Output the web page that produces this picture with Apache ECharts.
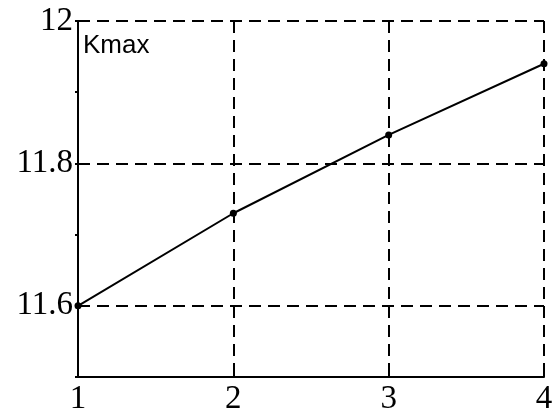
<!DOCTYPE html>
<html>
<head>
<meta charset="utf-8">
<script src="https://cdn.jsdelivr.net/npm/echarts@6/dist/echarts.min.js"></script>
<style>
  html, body { margin: 0; padding: 0; background: #fff; }
  #chart { width: 555px; height: 414px; }
</style>
</head>
<body>
<div id="chart"></div>
<script>
// Kmax versus step index
const steps = [1, 2, 3, 4];
const kmax = [11.6, 11.73, 11.84, 11.94];
const yGridValues = [11.6, 11.8, 12];
const yLabelValues = ['11.6', '11.8', '12'];

const serif = '"Liberation Serif", "Times New Roman", serif';
const dashed = { color: '#000', width: 2, type: [12, 7] };

const chart = echarts.init(document.getElementById('chart'), null, { renderer: 'canvas' });

chart.setOption({
  animation: false,
  backgroundColor: '#fff',
  title: {
    text: 'Kmax',
    left: 83,
    top: 33,
    padding: 0,
    textStyle: { fontFamily: '"Liberation Sans", Arial, sans-serif', fontSize: 26, fontWeight: 'normal', color: '#000' }
  },
  grid: { left: 78, right: 11, top: 21, bottom: 37, containLabel: false, outerBoundsMode: 'none' },
  xAxis: {
    type: 'value',
    min: 1,
    max: 4,
    interval: 1,
    axisLine: { show: true, lineStyle: { color: '#000', width: 2 } },
    axisTick: { show: true, inside: true, length: 4, lineStyle: { color: '#000', width: 2 } },
    axisLabel: { color: '#000', fontFamily: serif, fontSize: 33, margin: 6 },
    splitLine: { show: true, lineStyle: dashed }
  },
  yAxis: {
    type: 'value',
    min: 11.5,
    max: 12,
    interval: 0.1,
    axisLine: { show: true, lineStyle: { color: '#000', width: 2 } },
    axisTick: { show: true, length: 3, lineStyle: { color: '#000', width: 2 } },
    axisLabel: {
      color: '#000', fontFamily: serif, fontSize: 33, margin: 5,
      formatter: function (v) {
        const s = String(Math.round(v * 10) / 10);
        return yLabelValues.indexOf(s) >= 0 ? s : '';
      }
    },
    splitLine: { show: false }
  },
  series: [{
    type: 'line',
    data: steps.map((s, i) => [s, kmax[i]]),
    symbol: 'circle',
    symbolSize: 7,
    itemStyle: { color: '#000' },
    lineStyle: { color: '#000', width: 2 },
    markLine: {
      silent: true,
      symbol: ['none', 'none'],
      label: { show: false },
      lineStyle: dashed,
      data: yGridValues.map(v => ({ yAxis: v }))
    }
  }]
});
</script>
</body>
</html>
